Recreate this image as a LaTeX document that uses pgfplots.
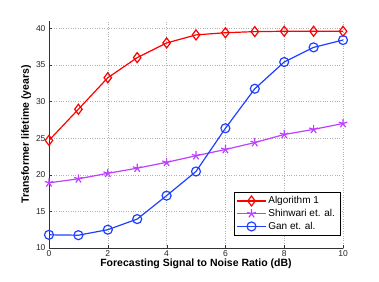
\documentclass[border=0pt]{standalone}
\usepackage{pgfplots}
\pgfplotsset{compat=1.18}
\usepackage{fontspec}
\setmainfont{Liberation Sans}
\definecolor{cred}{RGB}{255,0,0}
\definecolor{cpurple}{RGB}{190,64,255}
\definecolor{cblue}{RGB}{32,64,255}
\begin{document}
\begin{tikzpicture}
\begin{axis}[
  at={(0,0)}, anchor=south west,
  scale only axis, width=294pt, height=227pt,
  xmin=0, xmax=10, ymin=10, ymax=41,
  xtick={0,2,4,6,8,10}, ytick={10,15,20,25,30,35,40},
  axis lines=left, axis line style={-, black!80, line width=0.5pt},
  tick align=inside, major tick length=3pt,
  tick style={black!80},
  grid=major, grid style={dotted, gray!60, line width=0.5pt},
  /pgf/number format/assume math mode=true,
  ticklabel style={font=\fontsize{8.5}{9}\selectfont, text=black!85},
  xticklabel style={yshift=1pt},
  xlabel={\textbf{Forecasting Signal to Noise Ratio (dB)}},
  ylabel={\textbf{Transformer lifetime (years)}},
  label style={font=\fontsize{10.5}{12}\selectfont},
  xlabel style={yshift=5pt},
  ylabel style={yshift=-2pt},
  legend style={at={(0.99,0.055)}, anchor=south east, draw=black, font=\fontsize{10}{11}\selectfont, row sep=0pt, inner xsep=3pt, inner ysep=2.5pt},
  legend cell align=left,
  legend image code/.code={\draw[mark repeat=2,mark phase=2] plot coordinates {(0cm,0cm) (0.5cm,0cm) (1cm,0cm)};},
]
\addplot[cred, line width=1.2pt, mark=diamond, mark size=5pt, mark options={solid, line width=1.2pt}] coordinates {
(0,24.7) (1,28.95) (2,33.25) (3,36.0) (4,38.0) (5,39.1) (6,39.4) (7,39.55) (8,39.6) (9,39.6) (10,39.6)};
\addlegendentry{Algorithm 1}
\addplot[cpurple, line width=1.2pt, mark=star, mark size=4.5pt, mark options={solid, line width=1.2pt}] coordinates {
(0,18.9) (1,19.45) (2,20.2) (3,20.9) (4,21.7) (5,22.6) (6,23.45) (7,24.4) (8,25.5) (9,26.2) (10,27.0)};
\addlegendentry{Shinwari et. al.}
\addplot[cblue, line width=1.2pt, mark=o, mark size=4.5pt, mark options={solid, line width=1.2pt}] coordinates {
(0,11.8) (1,11.75) (2,12.5) (3,13.95) (4,17.15) (5,20.45) (6,26.35) (7,31.75) (8,35.4) (9,37.4) (10,38.4)};
\addlegendentry{Gan et. al.}
\end{axis}
\path[use as bounding box] (-49pt,-33pt) rectangle (330pt,248pt);
\end{tikzpicture}
\end{document}
